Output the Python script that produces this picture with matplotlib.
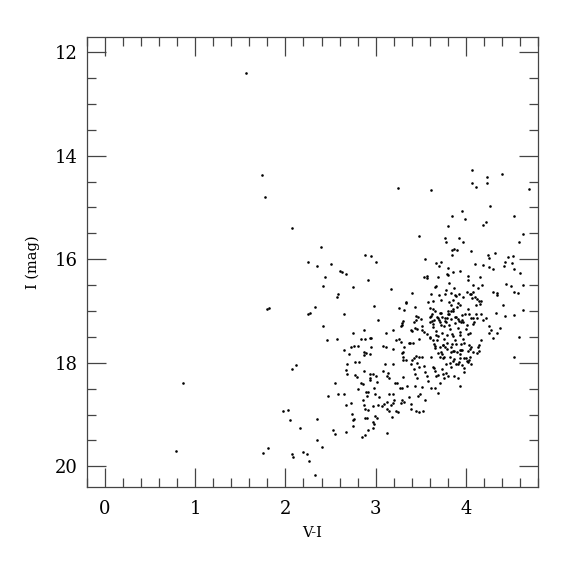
import matplotlib
matplotlib.use("Agg")
import matplotlib.pyplot as plt
import numpy as np
from matplotlib.ticker import MultipleLocator

plt.rcParams['font.family'] = ['DejaVu Serif']

# colour V-I, magnitude I
v_i = [
    # sparse blue / upper stars
    1.56, 1.74, 1.77, 0.86, 0.785,
    2.074, 2.393, 2.885, 2.248, 2.352, 2.50, 2.60, 2.626, 2.674, 2.915, 2.444,
    2.415, 2.744, 2.578, 2.57, 2.333, 1.82, 1.80, 2.278, 2.252, 2.648,
    # upper red part
    4.067, 4.237, 4.40, 4.067, 4.23, 4.111, 3.248, 3.619, 4.704, 4.263,
    3.963, 3.848, 3.993, 4.533, 4.226, 4.185, 3.80, 4.63, 3.481, 3.767,
    3.778, 3.919, 3.967, 4.589, 3.852, 3.867, 3.90, 4.056, 3.844, 4.244,
    4.252, 4.319, 2.944, 3.00, 4.463, 4.519, 3.552, 3.674, 3.726, 3.70,
    4.433, 4.507, 4.104, 4.193, 4.259, 4.304, 3.804, 4.419, 4.53, 3.941,
    3.863, 4.604, 3.789, 3.804, 3.533, 3.574, 3.57, 3.696, 4.019, 4.152,
    3.819, 4.019, 4.441, 4.503, 4.637, 3.659, 3.67, 3.874, 4.081, 4.174,
    3.785, 4.137, 3.174, 3.404, 3.619, 3.767, 3.841, 3.704, 3.885, 3.896,
    3.926, 4.011, 4.041, 4.056, 4.085, 4.30, 4.348, 4.341, 4.533, 4.578,
    3.722, 3.863, 3.967, 4.07, 4.10, 4.126, 4.148, 4.167, 3.585, 3.641,
    3.337, 2.981, 3.441, 3.819, 3.833, 3.915, 3.933, 3.904, 4.026, 4.111,
    4.156, 4.415, 3.263, 3.315, 3.604, 3.641, 3.656, 3.804, 3.833, 3.863,
    4.633, 3.626, 3.73, 3.819, 4.037, 4.111, 4.167, 4.33,
    # lower left branch
    2.415, 2.748, 2.874, 2.463, 2.574, 2.841, 2.878, 2.937, 2.722, 2.756,
    2.80, 2.644, 2.70, 2.874, 2.896, 2.933, 2.867, 2.767, 2.815, 2.678,
    2.674, 2.678, 2.767, 2.793, 2.874, 2.933, 2.933, 2.941, 2.115, 2.074,
    2.548, 2.841, 2.856, 2.80, 2.889, 2.919, 2.90, 2.467, 2.581, 2.648,
    2.856, 2.73, 2.667, 2.874, 2.885, 2.919, 1.97, 2.03, 2.056, 2.733,
    2.756, 2.744, 2.348, 2.885, 2.90, 2.752, 2.159, 2.533, 2.548, 2.674,
    2.915, 2.885, 2.844, 2.352, 2.404, 1.811, 1.756, 2.074, 2.089, 2.20,
    2.241, 2.259, 2.33,
    # main red clump region
    3.03, 3.304, 3.448, 3.47, 3.50, 3.422, 3.604, 3.622, 3.652, 3.689,
    3.715, 3.737, 3.767, 3.796, 3.833, 3.881, 3.915, 3.959, 3.944, 4.052,
    4.122, 4.189, 4.222, 4.437, 4.53, 4.081, 4.096, 4.256, 4.281, 4.256,
    4.381, 4.341, 4.296, 4.589, 4.533, 3.115, 3.189, 3.289, 3.278, 3.437,
    3.463, 3.404, 3.511, 3.537, 3.574, 3.60, 3.633, 2.944, 3.226, 3.263,
    3.285, 3.378, 3.419, 2.952, 3.085, 3.111, 3.193, 3.311, 3.304, 3.30,
    3.307, 3.426, 3.485, 3.519, 3.404, 3.389, 3.456, 3.478, 3.611, 3.693,
    3.741, 3.748, 3.659, 3.711, 3.752, 3.796, 3.837, 3.859, 3.90, 3.93,
    3.952, 4.00, 4.011, 4.037, 4.056, 4.041, 4.052, 4.081, 4.119, 4.144,
    4.13, 4.141, 4.167, 3.863, 3.896, 3.926, 3.833, 3.985, 3.978, 2.967,
    3.004, 3.019, 3.078, 3.10, 3.137, 3.122, 3.144, 3.189, 3.307, 3.426,
    3.441, 3.463, 3.548, 3.567, 3.581, 3.633, 3.648, 3.659, 3.67, 3.696,
    3.733, 3.748, 3.763, 3.785, 3.804, 3.87, 3.915, 3.941, 3.711, 3.696,
    3.611, 3.656, 3.493, 3.467, 3.544, 3.437, 3.511, 3.352, 3.241, 3.211,
    3.27, 3.289, 3.196, 3.144, 2.981, 2.996, 3.033, 3.293, 3.311, 3.285,
    3.374, 3.389, 3.093, 3.13, 3.167, 3.189, 3.204, 3.026, 3.07, 2.967,
    3.13, 3.148, 3.226, 3.248, 3.396, 3.444, 3.481, 3.522, 2.993, 3.011,
    3.181, 2.974, 2.981, 2.97, 3.13,
    # dense core
    3.612, 3.681, 3.711, 3.766, 3.801, 3.861, 3.889, 3.955, 3.986, 4.081,
    3.598, 3.641, 3.703, 3.726, 3.785, 3.815, 3.881, 3.919, 3.970, 4.008,
    3.636, 3.674, 3.733, 3.762, 3.822, 3.852, 3.911, 3.941, 4.000, 4.051,
    3.600, 3.666, 3.697, 3.755, 3.793, 3.859, 3.882, 3.940, 3.971, 4.029,
    3.644, 3.682, 3.748, 3.786, 3.851, 3.889, 3.948, 3.978, 4.037,
    3.660, 3.725, 3.771, 3.837, 3.867, 3.933, 3.963, 4.022,
    3.711, 3.756, 3.829, 3.874, 3.940, 3.978, 4.044,
    3.785, 3.830, 3.918, 3.956, 4.022,
    3.296, 3.333, 3.389, 3.444, 3.481, 3.519, 3.444, 3.333, 3.537, 3.296,
    3.37,
]

i_mag = [
    12.40, 14.37, 14.80, 18.39, 19.71,
    15.40, 15.76, 15.91, 16.05, 16.13, 16.10, 16.22, 16.25, 16.29, 16.41, 16.35,
    16.52, 16.54, 16.68, 16.73, 16.93, 16.95, 16.97, 17.03, 17.06, 17.05,
    14.27, 14.41, 14.36, 14.52, 14.53, 14.60, 14.62, 14.67, 14.65, 14.97,
    15.07, 15.16, 15.22, 15.16, 15.29, 15.34, 15.35, 15.51, 15.56, 15.60,
    15.67, 15.60, 15.66, 15.66, 15.82, 15.81, 15.83, 15.84, 15.92, 15.91,
    15.97, 15.88, 15.94, 16.06, 15.95, 15.94, 16.00, 16.07, 16.06, 16.14,
    16.05, 16.07, 16.10, 16.12, 16.16, 16.18, 16.17, 16.14, 16.18, 16.23,
    16.25, 16.27, 16.29, 16.31, 16.34, 16.32, 16.37, 16.34, 16.32, 16.34,
    16.46, 16.41, 16.48, 16.51, 16.50, 16.54, 16.51, 16.55, 16.50, 16.50,
    16.59, 16.55, 16.58, 16.66, 16.68, 16.67, 16.66, 16.69, 16.70, 16.72,
    16.68, 16.64, 16.68, 16.68, 16.64, 16.64, 16.65, 16.69, 16.64, 16.66,
    16.78, 16.79, 16.74, 16.75, 16.73, 16.77, 16.81, 16.80, 16.82, 16.80,
    16.82, 16.91, 16.93, 16.83, 16.88, 16.84, 16.88, 16.92, 16.97, 16.89,
    16.87, 16.89, 16.95, 16.99, 16.95, 16.97, 17.01, 17.00, 17.01, 16.97,
    16.99, 17.05, 17.04, 17.05, 17.05, 17.06, 17.05, 17.04,
    17.30, 17.42, 17.36, 17.57, 17.55, 17.55, 17.55, 17.53, 17.70, 17.67,
    17.67, 17.76, 17.83, 17.80, 17.81, 17.83, 17.86, 17.98, 17.99, 18.03,
    18.14, 18.21, 18.24, 18.27, 18.15, 18.21, 18.30, 18.33, 18.05, 18.13,
    18.39, 18.40, 18.42, 18.50, 18.57, 18.56, 18.65, 18.64, 18.60, 18.61,
    18.72, 18.78, 18.82, 18.81, 18.89, 18.92, 18.94, 18.92, 19.10, 18.99,
    19.08, 19.10, 19.08, 19.06, 19.07, 19.23, 19.26, 19.30, 19.38, 19.33,
    19.30, 19.39, 19.44, 19.49, 19.63, 19.64, 19.74, 19.77, 19.82, 19.72,
    19.76, 19.89, 20.16,
    17.18, 17.20, 17.18, 17.11, 17.16, 17.21, 17.12, 17.20, 17.18, 17.14,
    17.21, 17.12, 17.20, 17.14, 17.16, 17.12, 17.16, 17.17, 17.22, 17.14,
    17.13, 17.18, 17.13, 17.09, 17.08, 17.26, 17.22, 17.29, 17.36, 17.43,
    17.32, 17.43, 17.52, 17.50, 17.88, 17.43, 17.36, 17.27, 17.30, 17.32,
    17.35, 17.39, 17.36, 17.40, 17.45, 17.53, 17.56, 17.53, 17.57, 17.54,
    17.59, 17.61, 17.62, 17.70, 17.67, 17.70, 17.73, 17.70, 17.79, 17.88,
    17.95, 17.90, 17.89, 17.88, 17.95, 18.03, 18.01, 18.08, 17.88, 17.82,
    17.84, 17.90, 17.68, 17.70, 17.66, 17.74, 17.70, 17.78, 17.79, 17.84,
    17.75, 17.90, 17.97, 17.94, 18.02, 17.74, 17.69, 17.79, 17.81, 17.77,
    17.69, 17.65, 17.57, 17.97, 18.03, 17.98, 18.08, 18.11, 18.17, 18.22,
    18.26, 18.38, 18.15, 18.02, 18.19, 18.26, 18.30, 18.02, 18.28, 18.13,
    18.21, 18.29, 18.17, 18.26, 18.35, 18.08, 18.11, 18.16, 18.26, 18.24,
    18.13, 18.21, 18.29, 18.19, 18.26, 18.26, 18.29, 18.45, 18.40, 18.58,
    18.49, 18.49, 18.60, 18.65, 18.71, 18.44, 18.47, 18.44, 18.40, 18.39,
    18.49, 18.48, 18.61, 18.60, 18.49, 18.60, 18.66, 18.72, 18.76, 18.78,
    18.66, 18.80, 18.79, 18.76, 18.81, 18.78, 18.72, 18.82, 18.83, 18.83,
    18.90, 18.94, 18.93, 18.96, 18.90, 18.93, 18.95, 18.93, 19.03, 19.06,
    19.05, 19.15, 19.19, 19.26, 19.36,
    17.09, 17.12, 17.03, 17.14, 17.06, 17.01, 17.11, 17.08, 17.06, 17.13,
    17.22, 17.26, 17.18, 17.27, 17.21, 17.28, 17.24, 17.20, 17.21, 17.28,
    17.31, 17.38, 17.42, 17.30, 17.35, 17.44, 17.32, 17.40, 17.34, 17.43,
    17.50, 17.47, 17.49, 17.55, 17.46, 17.48, 17.57, 17.46, 17.55, 17.44,
    17.63, 17.57, 17.66, 17.62, 17.63, 17.64, 17.64, 17.61, 17.66,
    17.71, 17.80, 17.70, 17.79, 17.78, 17.75, 17.76, 17.78,
    17.89, 17.88, 17.89, 17.92, 17.91, 17.90, 17.89,
    18.02, 18.01, 18.02, 18.04, 17.98,
    17.23, 16.84, 17.36, 17.10, 17.55, 17.29, 17.87, 17.94, 18.06, 17.81,
    17.61,
]

x_ticks = [0, 1, 2, 3, 4]
y_ticks = [12, 14, 16, 18, 20]

fig = plt.figure(figsize=(5.75, 5.75), dpi=100)
ax = fig.add_axes([0.1513, 0.153, 0.7843, 0.7826])

ax.scatter(v_i, i_mag, s=3.5, c='black', marker='o', linewidths=0)

ax.set_xlim(-0.2, 4.8)
ax.set_ylim(20.4, 11.71)

ax.set_xticks(x_ticks)
ax.set_yticks(y_ticks)
ax.xaxis.set_minor_locator(MultipleLocator(0.2))
ax.yaxis.set_minor_locator(MultipleLocator(0.5))

ax.tick_params(which='both', direction='in', top=True, right=True,
               color='#444444', width=0.9, labelsize=13)
ax.tick_params(which='major', length=13.5, pad=7)
ax.tick_params(which='minor', length=6.5)
ax.tick_params(axis='x', which='major', pad=9)

for s in ax.spines.values():
    s.set_color('#444444')
    s.set_linewidth(0.9)

ax.set_xlabel('V-I', fontsize=10.5, labelpad=6)
ax.set_ylabel('I (mag)', fontsize=10.5, labelpad=10)

plt.savefig('out.png', dpi=100)
